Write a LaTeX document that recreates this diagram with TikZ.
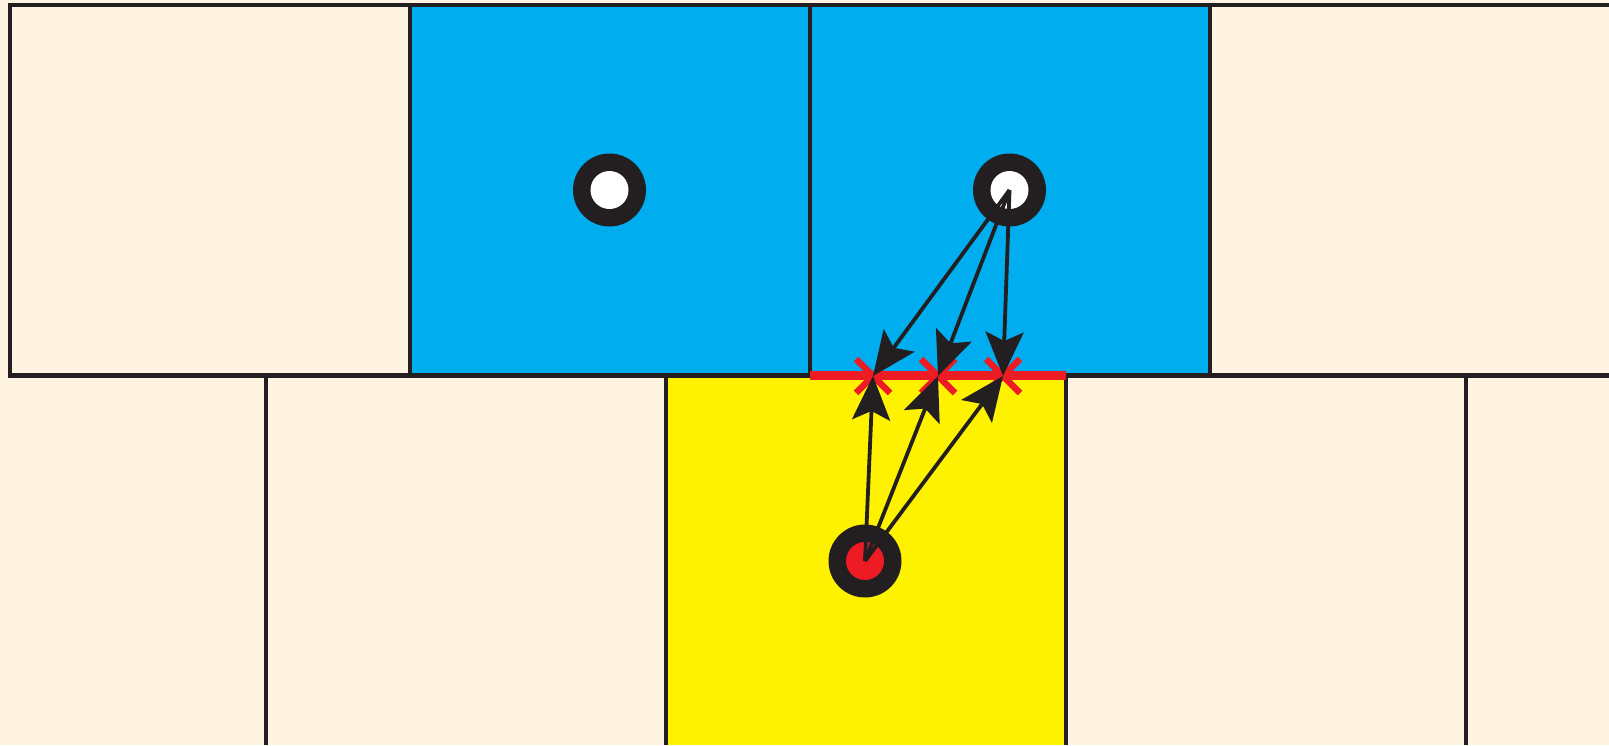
\documentclass[tikz,border=0pt]{standalone}
\usetikzlibrary{arrows.meta}
\definecolor{cream}{HTML}{FFF3E1}
\definecolor{cellblue}{HTML}{00AEEF}
\definecolor{cellyellow}{HTML}{FFF200}
\definecolor{wallred}{HTML}{ED1C24}
\definecolor{ink}{HTML}{231F20}
\tikzset{
  border/.style={draw=ink, line width=4.6pt},
  agent/.style={circle, fill=ink, minimum size=73pt, inner sep=0pt},
  xmark/.style={draw=wallred, line width=6.5pt},
  move/.style={draw=ink, line width=3.8pt, -{Stealth[length=44pt, width=38pt, inset=9pt]}}
}
\begin{document}
\begin{tikzpicture}[x=1pt, y=-1pt]
\useasboundingbox (0,0) rectangle (1609,745);
% background and cells
\fill[cream] (0,0) rectangle (1609,745);
\fill[cellblue] (410,5) rectangle (1210,375.5);
\fill[cellyellow] (666,375.5) rectangle (1066,745);
% grid lines
\draw[border] (10,375.5) -- (10,5) -- (1609,5);
\draw[border] (8,375.5) -- (1609,375.5);
\foreach \x in {410,810,1210} \draw[border] (\x,5) -- (\x,375.5);
\foreach \x in {266,666,1066,1466} \draw[border] (\x,375.5) -- (\x,745);
% red wall
\draw[wallred, line width=9.5pt] (810,375.5) -- (1066,375.5);
\coordinate (p1) at (873,376);
\coordinate (p2) at (938,376);
\coordinate (p3) at (1003,376);
\foreach \p in {p1,p2,p3} {
  \draw[xmark] ([shift={(-17,-17)}]\p) -- ([shift={(17,17)}]\p);
  \draw[xmark] ([shift={(-17,17)}]\p) -- ([shift={(17,-17)}]\p);
}
% agents
\node[agent] (a) at (609.5,190) {};
\node[agent] (b) at (1009.5,190) {};
\node[agent] (c) at (865,561) {};
\fill[white] (a.center) circle[radius=19];
\fill[white] (b.center) circle[radius=19];
\fill[wallred] (c.center) circle[radius=19];
% moves
\foreach \p in {p1,p2,p3} {
  \draw[move] (b.center) -- (\p);
  \draw[move] (c.center) -- (\p);
}
\end{tikzpicture}
\end{document}
